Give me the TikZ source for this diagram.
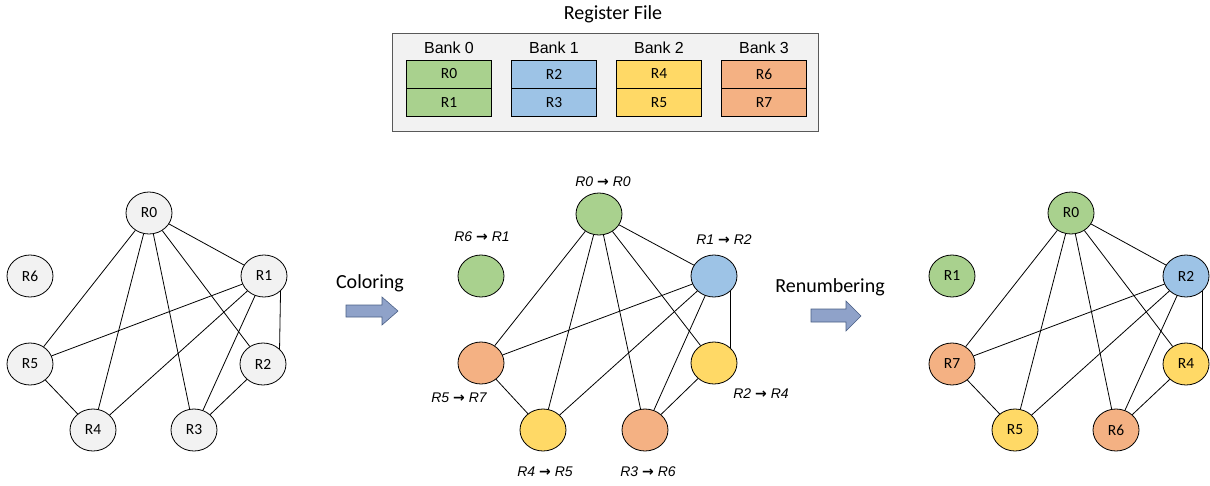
\documentclass[tikz,border=0pt]{standalone}
\usepackage{fontspec}
\setmainfont{Carlito}
\newfontfamily\arialfont{Liberation Sans}
\newfontfamily\arrowfont{DejaVu Sans}
\usepackage{tikz}
\usetikzlibrary{positioning,shapes.geometric}

\definecolor{bankgreen}{HTML}{A9D18E}
\definecolor{bankblue}{HTML}{9DC3E6}
\definecolor{bankyellow}{HTML}{FFD966}
\definecolor{bankorange}{HTML}{F4B183}
\definecolor{regfill}{HTML}{F2F2F2}
\definecolor{boxgray}{HTML}{595959}
\definecolor{arrowfill}{HTML}{8FA2C9}
\definecolor{arrowline}{HTML}{4A5F85}

\newcommand{\maps}{{\arrowfont\bfseries\upshape →}}

\begin{document}
\begin{tikzpicture}[x=1pt,y=-1pt,line width=0.8pt,
  vreg/.style={draw,ellipse,minimum width=46pt,minimum height=42pt,inner sep=0pt,fill=regfill,font=\fontsize{15.5}{15.5}\selectfont},
  cell/.style={draw,minimum width=85pt,minimum height=28pt,inner sep=0pt,font=\fontsize{15.5}{15.5}\selectfont},
  bank/.style={font=\arialfont\fontsize{16}{16}\selectfont},
  tag/.style={font=\arialfont\itshape\fontsize{14}{14}\selectfont},
  step label/.style={font=\fontsize{20}{20}\selectfont},
  fat arrow/.style={draw=arrowline,fill=arrowfill,line width=0.6pt}]
\useasboundingbox (0,0) rectangle (1210,485);

% register file
\node[step label] (title) at (613,14) {Register File};
\node[draw=boxgray,fill=regfill,line width=1pt,minimum width=426pt,minimum height=98pt] (rf) at (605,82) {};
\node[bank] (b0) at (449,48) {Bank 0};
\node[bank] (b1) at (554,48) {Bank 1};
\node[bank] (b2) at (659,48) {Bank 2};
\node[bank] (b3) at (764,48) {Bank 3};
\node[cell,fill=bankgreen] (c0) at (449,74) {R0};
\node[cell,fill=bankgreen] (c1) [below=0pt of c0] {R1};
\node[cell,fill=bankblue] (c2) at (554,74) {R2};
\node[cell,fill=bankblue] (c3) [below=0pt of c2] {R3};
\node[cell,fill=bankyellow] (c4) at (659,74) {R4};
\node[cell,fill=bankyellow] (c5) [below=0pt of c4] {R5};
\node[cell,fill=bankorange] (c6) at (764,74) {R6};
\node[cell,fill=bankorange] (c7) [below=0pt of c6] {R7};

% before coloring
\node[vreg] (l0) at (149,213) {R0};
\node[vreg] (l6) at (30,276) {R6};
\node[vreg] (l1) at (264,276) {R1};
\node[vreg] (l5) at (30,364) {R5};
\node[vreg] (l2) at (263,364) {R2};
\node[vreg] (l4) at (93,430) {R4};
\node[vreg] (l3) at (194,430) {R3};

% after coloring
\node[vreg,fill=bankgreen] (m0) at (599,214) {};
\node[vreg,fill=bankgreen] (m6) at (481,276) {};
\node[vreg,fill=bankblue] (m1) at (714,276) {};
\node[vreg,fill=bankorange] (m5) at (481,363) {};
\node[vreg,fill=bankyellow] (m2) at (714,363) {};
\node[vreg,fill=bankyellow] (m4) at (543,430) {};
\node[vreg,fill=bankorange] (m3) at (645,430) {};

\node[tag] (t0) at (603,182) {R0 \maps{} R0};
\node[tag] (t6) at (482,237) {R6 \maps{} R1};
\node[tag] (t1) at (724,240) {R1 \maps{} R2};
\node[tag] (t5) at (459,398) {R5 \maps{} R7};
\node[tag] (t2) at (761,394) {R2 \maps{} R4};
\node[tag] (t4) at (545,472) {R4 \maps{} R5};
\node[tag] (t3) at (648,472) {R3 \maps{} R6};

% after renumbering
\node[vreg,fill=bankgreen] (r0) at (1071,213) {R0};
\node[vreg,fill=bankgreen] (r6) at (952,276) {R1};
\node[vreg,fill=bankblue] (r1) at (1186,276) {R2};
\node[vreg,fill=bankorange] (r5) at (952,364) {R7};
\node[vreg,fill=bankyellow] (r2) at (1186,364) {R4};
\node[vreg,fill=bankyellow] (r4) at (1015,430) {R5};
\node[vreg,fill=bankorange] (r3) at (1116,430) {R6};

\foreach \g in {l,m,r} {
  \path (\g0) edge (\g1) edge (\g2) edge (\g3) edge (\g4) edge (\g5)
        (\g1) edge (\g5) edge (\g4) edge (\g3)
        (\g5) edge (\g4)
        (\g3) edge (\g2);
  \draw (\g1.south east) -- (\g2.north east);
}

% steps
\node[step label] (colortext) at (370,283) {Coloring};
\draw[fat arrow] (346,305) -- (382,305) -- (382,297) -- (398,311) -- (382,325) -- (382,317) -- (346,317) -- cycle;
\node[step label] (renumtext) at (830,287) {Renumbering};
\draw[fat arrow] (811,309) -- (846,309) -- (846,301) -- (861,316) -- (846,331) -- (846,322) -- (811,322) -- cycle;
\end{tikzpicture}
\end{document}
